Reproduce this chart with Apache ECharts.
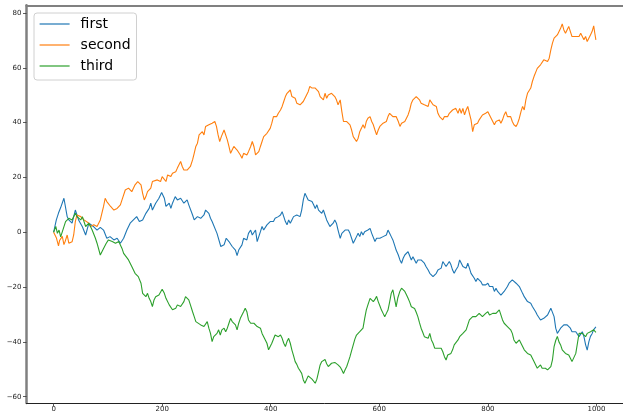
<!DOCTYPE html>
<html>
<head>
<meta charset="utf-8">
<script src="https://cdn.jsdelivr.net/npm/echarts@6/dist/echarts.min.js"></script>
<style>
  html, body { margin: 0; padding: 0; background: #fff; }
  #chart { width: 623px; height: 414px; }
</style>
</head>
<body>
<div id="chart"></div>
<script>
// Three random walks, sampled as [step, value] pairs
const seriesNames = ['first', 'second', 'third'];
const seriesColors = ['#1f77b4', '#ff7f0e', '#2ca02c'];
const xTicks = [0, 200, 400, 600, 800, 1000];
const yTicks = [-60, -40, -20, 0, 20, 40, 60, 80];

const firstWalk = [[0,0],[5,4.5],[9,7],[13,9],[19,12.4],[25,5.7],[28,4.5],[34,3.3],[40,8.1],[46,4.5],[53,2.0],[59,-1.0],[65,3.3],[74,2.0],[80,0.8],[86,1.8],[92,0.8],[98,-2.2],[104,-1.6],[111,-2.8],[117,-2.2],[123,-4.0],[129,-2.2],[135,0.8],[141,3.3],[147,4.5],[153,5.7],[158,3.9],[164,4.5],[170,6.9],[176,8.7],[179,10.6],[182,8.1],[188,10.6],[194,12.4],[199,14.5],[204,12.4],[207,9.4],[213,10.6],[216,8.7],[219,10.6],[224,13.0],[228,11.8],[234,12.4],[240,10.6],[246,11.8],[249,10.0],[256,6.3],[259,4.5],[265,5.7],[271,5.1],[277,6.3],[280,8.1],[286,6.9],[289,5.1],[292,3.9],[295,3.3],[301,-0.4],[308,-5.2],[314,-4.6],[318,-2.2],[323,-3.4],[329,-5.2],[335,-6.5],[338,-8.5],[341,-6.5],[347,-4.6],[350,-2.2],[353,-1.6],[356,-2.8],[359,-0.4],[363,0.8],[366,-1.0],[369,-0.4],[372,0.8],[375,-3.4],[378,-2.8],[381,0.2],[384,2.1],[387,0.8],[390,1.4],[393,2.7],[396,3.3],[399,3.9],[402,4.5],[405,3.9],[408,5.1],[411,5.1],[414,5.7],[418,6.3],[421,7.5],[424,5.7],[427,3.9],[430,2.7],[433,4.5],[436,3.3],[439,4.5],[442,5.7],[445,5.7],[448,6.3],[451,6.9],[454,5.7],[457,8.1],[460,11.8],[463,14.2],[466,13.6],[469,11.8],[472,12.4],[476,11.2],[479,10.0],[482,8.7],[485,10.0],[488,8.1],[491,7.5],[494,6.9],[497,8.1],[500,6.3],[503,4.5],[506,3.3],[509,2.1],[512,2.7],[515,3.3],[518,4.5],[521,3.3],[524,0.8],[528,-2.2],[531,-0.4],[534,0.2],[537,0.8],[540,0.2],[543,0.8],[546,-0.4],[549,-1.0],[552,-4.0],[555,-2.8],[558,-1.6],[561,-0.4],[564,-1.6],[567,0.2],[570,-1.0],[573,0.2],[576,-0.4],[579,0.8],[583,1.4],[586,-0.4],[589,-1.0],[592,-3.4],[595,-2.2],[598,-2.8],[601,-2.2],[604,-1.6],[607,-1.6],[610,-2.2],[613,-1.0],[616,0.8],[619,-0.4],[622,-1.6],[625,-2.8],[628,-4.6],[631,-6.5],[635,-8.3],[638,-10.1],[641,-11.3],[644,-9.5],[647,-8.3],[650,-7.7],[653,-7.1],[656,-7.7],[659,-10.1],[662,-8.9],[665,-10.1],[668,-11.3],[671,-10.1],[674,-9.5],[677,-10.1],[680,-9.5],[683,-11.3],[686,-12.5],[690,-13.8],[693,-15.0],[696,-15.6],[699,-16.2],[702,-16.8],[705,-15.0],[708,-13.8],[711,-14.4],[714,-13.1],[717,-10.7],[720,-11.3],[723,-12.5],[726,-11.9],[729,-10.7],[732,-11.9],[735,-13.8],[738,-15.0],[741,-13.8],[745,-12.5],[748,-10.1],[751,-11.3],[754,-12.5],[757,-11.9],[760,-13.1],[763,-11.3],[766,-13.1],[769,-15.0],[772,-15.6],[775,-16.8],[778,-18.0],[781,-16.8],[784,-17.4],[787,-18.0],[790,-19.2],[793,-18.6],[796,-19.2],[800,-18.6],[803,-19.8],[806,-19.2],[809,-19.8],[812,-21.6],[815,-20.4],[818,-21.6],[821,-22.3],[824,-22.9],[827,-23.5],[830,-21.6],[833,-21.0],[836,-19.8],[839,-18.6],[842,-18.0],[845,-17.4],[848,-18.0],[852,-18.6],[855,-19.2],[858,-19.8],[861,-20.4],[864,-22.3],[867,-23.5],[870,-24.1],[873,-25.3],[876,-25.9],[879,-25.9],[882,-27.1],[885,-27.7],[888,-29.0],[891,-30.2],[894,-30.8],[897,-32.0],[900,-32.6],[903,-31.4],[906,-30.8],[910,-30.2],[913,-29.6],[916,-27.7],[919,-27.1],[922,-30.8],[925,-35.0],[928,-36.9],[931,-36.3],[934,-35.0],[937,-34.4],[940,-33.8],[943,-33.2],[946,-33.8],[949,-34.4],[952,-35.0],[955,-36.3],[958,-36.9],[962,-36.3],[965,-36.9],[968,-38.1],[971,-37.5],[974,-36.3],[977,-38.1],[980,-41.0],[983,-43.0],[986,-40.0],[989,-38.0],[992,-37.0],[995,-35.5],[999,-34.5]];

const secondWalk = [[0,0],[5,-2.0],[9,-5.0],[11,-3.0],[16,-1.5],[19,-4.5],[21,-3.5],[25,-1.0],[28,-4.0],[31,-4.5],[34,-3.5],[37,-1.0],[40,3.9],[43,6.3],[50,5.7],[56,4.5],[59,5.1],[65,3.3],[68,2.1],[74,2.7],[80,2.1],[86,4.5],[92,9.4],[95,12.4],[98,11.2],[101,11.8],[105,9.4],[111,8.1],[117,8.7],[123,10.0],[126,11.8],[132,15.4],[138,16.1],[144,14.8],[150,17.3],[155,18.5],[158,18.5],[161,17.3],[164,14.2],[167,11.8],[170,13.0],[173,14.8],[176,14.2],[179,16.1],[182,18.5],[185,19.1],[191,19.1],[194,19.7],[197,18.5],[200,20.3],[207,18.5],[210,20.9],[216,20.3],[219,21.5],[222,20.9],[225,22.1],[228,23.4],[231,24.0],[234,25.8],[237,24.0],[240,22.7],[243,23.4],[246,22.7],[249,22.1],[252,24.0],[256,26.4],[259,28.8],[262,31.3],[265,32.5],[268,35.5],[271,36.1],[274,36.7],[277,35.5],[280,38.6],[286,39.2],[289,39.2],[292,39.8],[297,40.4],[300,38.6],[303,35.5],[306,33.1],[309,34.9],[314,37.3],[317,36.7],[320,33.7],[323,31.3],[326,28.8],[332,31.3],[335,30.7],[338,30.0],[341,30.7],[344,28.2],[347,27.0],[350,28.8],[353,28.8],[356,28.2],[359,29.4],[363,31.3],[366,33.1],[369,31.3],[372,28.2],[375,27.6],[378,29.4],[381,31.3],[384,33.1],[387,34.9],[390,35.5],[393,36.1],[396,36.7],[399,37.9],[402,39.8],[405,42.2],[408,42.8],[411,42.2],[414,43.4],[418,44.6],[421,45.9],[424,47.7],[427,49.5],[430,50.7],[433,50.1],[436,51.9],[439,49.5],[442,48.9],[445,48.9],[448,47.1],[451,47.7],[454,46.5],[457,47.1],[460,47.7],[463,48.3],[466,50.1],[469,51.3],[472,53.2],[476,52.6],[479,51.9],[482,52.6],[485,51.9],[488,51.3],[491,49.5],[494,50.1],[497,48.3],[500,50.7],[503,48.9],[506,50.1],[509,50.7],[512,50.7],[515,51.3],[518,49.5],[521,48.3],[524,46.5],[528,48.3],[531,44.0],[534,40.4],[537,39.8],[540,40.4],[543,41.0],[546,39.2],[549,37.3],[552,34.9],[555,34.3],[558,33.1],[561,34.3],[564,36.7],[567,37.9],[570,39.2],[573,37.9],[576,40.4],[579,41.6],[583,42.2],[586,40.4],[589,39.2],[592,37.3],[595,35.5],[598,37.3],[601,38.6],[604,39.2],[607,39.8],[610,39.2],[613,40.4],[616,42.2],[619,43.4],[622,42.8],[625,42.2],[628,41.6],[631,42.2],[635,40.4],[638,38.6],[641,39.8],[644,39.2],[647,40.4],[650,41.6],[653,42.8],[656,44.6],[659,47.1],[662,48.3],[665,48.9],[668,49.5],[671,48.9],[674,48.3],[677,47.1],[680,47.7],[683,46.5],[686,47.1],[690,45.9],[693,48.3],[696,47.7],[699,46.5],[702,47.1],[705,45.9],[708,43.4],[711,42.2],[714,42.8],[717,41.0],[720,42.2],[723,42.8],[726,42.2],[729,43.4],[732,42.8],[735,44.6],[738,44.0],[741,45.2],[745,43.4],[748,45.2],[751,43.4],[754,45.2],[757,42.8],[760,44.6],[763,45.9],[766,43.4],[769,41.0],[772,36.7],[775,39.2],[778,38.6],[781,39.8],[784,41.0],[787,41.6],[790,42.8],[793,42.2],[796,43.4],[800,44.0],[803,43.4],[806,41.6],[809,40.4],[812,39.2],[815,40.4],[818,39.8],[821,41.0],[824,39.8],[827,41.0],[830,42.8],[833,44.0],[836,42.2],[839,41.6],[842,42.2],[845,40.4],[848,39.2],[852,38.6],[855,39.8],[858,41.6],[861,44.0],[864,45.9],[867,44.6],[870,48.3],[873,50.7],[876,51.3],[879,52.6],[882,55.0],[885,56.8],[888,57.4],[891,59.8],[894,59.2],[897,61.1],[900,61.7],[903,62.9],[906,63.5],[910,62.3],[913,63.5],[916,66.5],[919,69.0],[922,70.8],[925,70.2],[928,72.0],[931,72.7],[934,74.4],[937,76.0],[940,73.8],[943,72.6],[946,73.2],[949,75.1],[952,75.7],[955,71.4],[958,70.8],[962,71.4],[965,70.8],[968,71.4],[971,72.6],[974,71.4],[977,70.2],[980,71.4],[983,69.6],[986,70.8],[989,72.0],[992,73.2],[995,75.3],[997,72.6],[999,70.2]];

const thirdWalk = [[0,0],[4,2.1],[7,-0.4],[10,0.8],[13,-1.7],[16,-1.6],[22,3.9],[25,4.5],[28,5.1],[34,4.5],[40,6.9],[43,5.7],[50,4.5],[53,5.7],[59,2.1],[65,3.3],[71,0.8],[77,-2.2],[80,-4.0],[86,-8.3],[92,-5.9],[97,-4.0],[101,-2.8],[108,-3.4],[114,-4.0],[120,-3.4],[126,-5.9],[129,-7.7],[132,-8.3],[138,-10.1],[144,-12.5],[150,-15.0],[156,-16.2],[161,-18.6],[164,-22.3],[167,-22.9],[170,-23.5],[173,-22.3],[176,-24.1],[179,-25.3],[182,-27.1],[185,-24.7],[188,-23.5],[191,-24.1],[194,-22.9],[200,-20.8],[204,-22.3],[207,-24.1],[213,-26.5],[219,-28.3],[225,-27.7],[228,-26.5],[231,-26.5],[234,-27.1],[237,-27.7],[240,-25.3],[243,-23.5],[246,-23.2],[249,-24.7],[252,-26.5],[256,-29.0],[259,-30.8],[262,-32.6],[265,-33.2],[271,-33.8],[277,-34.4],[280,-33.8],[283,-32.6],[286,-35.0],[289,-36.9],[292,-39.9],[295,-38.1],[298,-37.5],[301,-36.9],[304,-35.6],[307,-37.5],[310,-35.6],[314,-35.0],[317,-36.3],[320,-35.0],[323,-33.2],[326,-31.4],[329,-32.6],[332,-32.6],[335,-33.8],[338,-35.6],[341,-33.2],[344,-31.4],[347,-30.2],[350,-29.0],[353,-27.7],[356,-29.0],[359,-32.0],[363,-33.2],[366,-32.6],[369,-33.2],[372,-33.8],[375,-34.4],[378,-35.0],[381,-35.0],[384,-36.9],[387,-38.1],[390,-38.7],[393,-40.5],[396,-42.9],[399,-41.7],[402,-40.5],[405,-40.5],[408,-37.5],[411,-36.9],[414,-38.1],[418,-37.5],[421,-38.7],[424,-40.5],[427,-41.7],[430,-39.9],[433,-38.7],[436,-40.5],[439,-43.0],[442,-45.0],[445,-47.2],[448,-48.2],[451,-49.6],[454,-50.5],[457,-51.5],[460,-53.9],[463,-55.1],[466,-54.5],[469,-52.4],[472,-52.9],[476,-53.6],[479,-53.9],[482,-55.1],[485,-53.6],[488,-51.0],[491,-48.4],[494,-47.2],[497,-46.6],[500,-46.4],[503,-48.0],[506,-49.0],[509,-48.4],[512,-47.8],[515,-48.4],[518,-47.5],[521,-48.0],[524,-48.4],[528,-49.2],[531,-50.3],[534,-51.5],[537,-50.2],[540,-49.0],[543,-47.2],[546,-45.4],[549,-43.2],[552,-41.1],[555,-39.0],[558,-37.5],[561,-37.9],[564,-36.3],[567,-36.9],[570,-35.0],[573,-31.5],[576,-28.4],[579,-26.5],[583,-24.1],[586,-24.8],[589,-25.3],[592,-24.5],[595,-23.4],[598,-25.3],[601,-26.8],[604,-28.4],[607,-29.6],[610,-30.8],[613,-29.6],[616,-28.4],[619,-25.5],[622,-22.3],[625,-21.0],[628,-24.1],[631,-27.2],[634,-24.0],[638,-21.5],[641,-20.4],[644,-21.0],[647,-21.6],[650,-22.8],[653,-24.1],[656,-25.5],[659,-27.2],[662,-27.5],[665,-27.8],[668,-29.2],[671,-30.8],[674,-33.0],[677,-35.0],[680,-36.5],[683,-38.1],[686,-38.4],[690,-38.7],[693,-36.9],[696,-39.3],[699,-40.5],[702,-42.3],[705,-42.9],[708,-42.3],[711,-42.9],[714,-42.3],[717,-43.6],[720,-45.4],[723,-46.6],[726,-44.8],[729,-45.4],[732,-44.2],[735,-42.9],[738,-41.1],[741,-40.5],[745,-39.3],[748,-38.1],[751,-37.5],[754,-36.9],[757,-37.5],[760,-35.6],[763,-33.8],[766,-32.0],[769,-31.4],[772,-30.8],[775,-30.2],[778,-30.8],[781,-30.2],[784,-29.6],[787,-30.2],[790,-30.8],[793,-30.2],[796,-29.6],[800,-29.0],[803,-30.2],[806,-30.8],[809,-29.6],[812,-30.2],[815,-29.6],[818,-29.0],[821,-28.3],[824,-29.0],[827,-32.0],[830,-33.2],[833,-33.8],[836,-34.4],[839,-35.0],[842,-35.6],[845,-36.9],[848,-39.3],[852,-40.5],[855,-41.1],[858,-39.3],[861,-40.5],[864,-41.7],[867,-42.9],[870,-42.3],[873,-44.2],[876,-43.6],[879,-44.8],[882,-46.0],[885,-47.2],[888,-47.8],[891,-49.6],[894,-49.0],[897,-48.4],[900,-49.6],[903,-49.0],[906,-49.6],[910,-50.2],[913,-49.6],[916,-49.0],[919,-46.6],[922,-41.7],[925,-39.5],[928,-38.0],[931,-40.0],[934,-41.1],[937,-42.9],[940,-42.9],[943,-44.2],[946,-43.6],[949,-44.8],[952,-45.4],[955,-47.2],[958,-46.6],[962,-44.2],[965,-40.5],[968,-36.9],[971,-36.3],[974,-36.9],[977,-36.3],[980,-38.1],[983,-36.9],[986,-37.5],[989,-36.3],[992,-36.9],[995,-35.6],[999,-36.5]];

const walks = [firstWalk, secondWalk, thirdWalk];

const labelFont = { fontFamily: 'DejaVu Sans', fontSize: 7, color: '#222' };
const minusSign = v => String(v).replace('-', '\u2212');

const chart = echarts.init(document.getElementById('chart'), null, { renderer: 'canvas' });

chart.setOption({
  animation: false,
  backgroundColor: '#fff',
  grid: { left: 26.5, right: -2.7, top: 5.3, bottom: 11, containLabel: false },
  legend: {
    orient: 'vertical',
    left: 34,
    top: 13,
    data: seriesNames,
    itemWidth: 30,
    itemHeight: 14,
    itemGap: 7,
    padding: [4, 6, 7, 5],
    backgroundColor: 'rgba(255,255,255,0.8)',
    borderColor: '#d0d0d0',
    borderWidth: 1,
    borderRadius: 3,
    itemStyle: { opacity: 0 },
    lineStyle: { width: 1.2 },
    textStyle: { fontFamily: 'DejaVu Sans', fontSize: 14, color: '#000', padding: [0, 0, 0, 6] }
  },
  xAxis: [
    {
      type: 'value',
      min: -49.95,
      max: 1048.95,
      position: 'bottom',
      splitLine: { show: false },
      axisLine: { show: true, onZero: false, lineStyle: { color: '#222', width: 1 } },
      axisTick: { show: true, length: 3.5, lineStyle: { color: '#333', width: 0.8 }, customValues: xTicks },
      axisLabel: Object.assign({ margin: 3, customValues: xTicks, formatter: minusSign }, labelFont)
    },
    {
      type: 'value',
      min: -49.95,
      max: 1048.95,
      position: 'top',
      splitLine: { show: false },
      axisLine: { show: true, onZero: false, lineStyle: { color: '#808080', width: 2 } },
      axisTick: { show: false },
      axisLabel: { show: false }
    }
  ],
  yAxis: {
    type: 'value',
    min: -62.3,
    max: 82.8,
    position: 'left',
    splitLine: { show: false },
    axisLine: { show: true, onZero: false, lineStyle: { color: '#808080', width: 2.5 } },
    axisTick: { show: true, length: 3.5, lineStyle: { color: '#333', width: 0.8 }, customValues: yTicks },
    axisLabel: Object.assign({ margin: 5, customValues: yTicks, formatter: minusSign }, labelFont)
  },
  series: walks.map((walk, i) => ({
    name: seriesNames[i],
    type: 'line',
    xAxisIndex: 0,
    data: walk,
    symbol: 'none',
    showSymbol: false,
    color: seriesColors[i],
    lineStyle: { color: seriesColors[i], width: 1.1 },
    emphasis: { disabled: true }
  }))
});
</script>
</body>
</html>
